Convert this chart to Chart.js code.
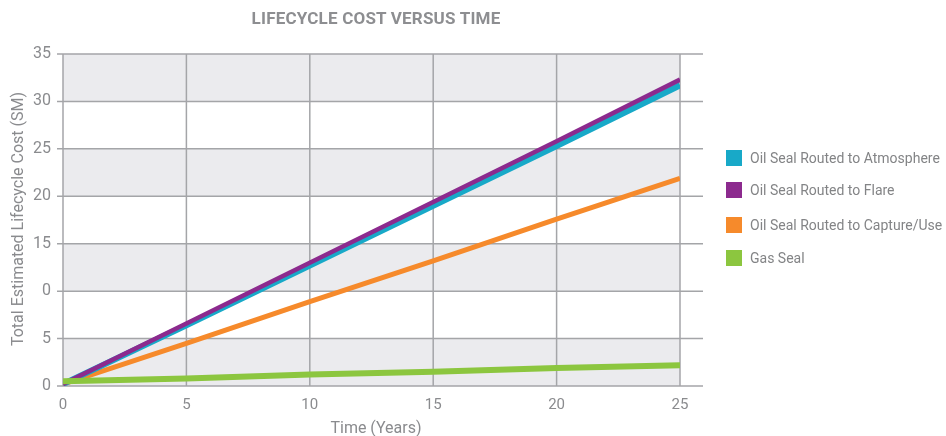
<!DOCTYPE html>
<html><head><meta charset="utf-8">
<script src="https://cdn.jsdelivr.net/npm/chart.js@4"></script>
<style>
body{margin:0;background:#fff;}
#wrap{position:relative;width:946px;height:436px;overflow:hidden;}
canvas{position:absolute;left:0;top:0;}
#title{position:absolute;top:8px;left:215px;width:322px;text-align:center;font:bold 17px Roboto,sans-serif;color:#8d8e91;white-space:nowrap;letter-spacing:0.2px;}
#xtitle{position:absolute;top:418px;left:276px;width:200px;text-align:center;font:16px Roboto,sans-serif;color:#8a8b8e;line-height:20px;}
#ytitle{position:absolute;left:-132px;top:209px;width:300px;text-align:center;font:16px Roboto,sans-serif;color:#8a8b8e;line-height:20px;transform:rotate(-90deg);}
.leg{position:absolute;left:726px;height:16px;font:14px Roboto,sans-serif;color:#838486;white-space:nowrap;line-height:16px;}
.leg span{display:inline-block;width:16px;height:16px;vertical-align:top;margin-right:8px;}
</style></head>
<body><div id="wrap"><canvas id="c" width="946" height="436"></canvas>
<div id="title">LIFECYCLE COST VERSUS TIME</div>
<div id="xtitle">Time (Years)</div>
<div id="ytitle">Total Estimated Lifecycle Cost (SM)</div>
<div id="legend"></div></div>
<script>
const years = [0, 5, 10, 15, 20, 25];
const seriesNames = ['Oil Seal Routed to Atmosphere','Oil Seal Routed to Flare','Oil Seal Routed to Capture/Use','Gas Seal'];
const atmosphere = [0.2, 6.4, 12.7, 19.0, 25.3, 31.7];
const flare = [0.2, 6.6, 13.0, 19.4, 25.8, 32.3];
const capture = [0.2, 4.5, 8.9, 13.2, 17.6, 21.9];
const gasSeal = [0.5, 0.8, 1.2, 1.5, 1.9, 2.2];
const xTicks = [0, 5, 10, 15, 20, 25];
const yTicks = [0, 5, 10, 15, 20, 25, 30, 35];
const yTickLabels = ['0', '5', '0', '15', '20', '25', '30', '35'];
const colors = ['#18a9c8', '#8c2a8e', '#f68a2b', '#8cc63f'];

const legendTops = [150, 182, 217, 250];
const legEl = document.getElementById('legend');
seriesNames.forEach((n,i)=>{
  const d=document.createElement('div'); d.className='leg'; d.style.top=legendTops[i]+'px';
  d.innerHTML='<span style="background:'+colors[i]+'"></span>'+n; legEl.appendChild(d);
});

const toPts = arr => arr.map((v,i)=>({x:years[i], y:v}));
const bg = {id:'bg', beforeDatasetsDraw(c){
  const {ctx, chartArea:a, scales:{x,y}} = c;
  ctx.save();
  for (let i=0;i<yTicks.length-1;i++){
    if (i%2===0){
      const t=y.getPixelForValue(yTicks[i+1]), b=y.getPixelForValue(yTicks[i]);
      ctx.fillStyle='#ebebee'; ctx.fillRect(a.left,t,a.right-a.left,b-t);
    }
  }
  ctx.strokeStyle='#a4a5a8'; ctx.lineWidth=1.5;
  const ln=(x1,y1,x2,y2)=>{ctx.beginPath();ctx.moveTo(x1,y1);ctx.lineTo(x2,y2);ctx.stroke();};
  xTicks.forEach(v=>{const p=x.getPixelForValue(v); ln(p,a.top,p,a.bottom);});
  yTicks.forEach(v=>{const p=y.getPixelForValue(v); ln(a.left-6,p,a.right+23,p);});
  ctx.restore();
}};

new Chart(document.getElementById('c'), {
  type:'line',
  data:{datasets:[
    {label:seriesNames[0], data:toPts(atmosphere), borderColor:colors[0], borderWidth:6, order:2},
    {label:seriesNames[1], data:toPts(flare), borderColor:colors[1], borderWidth:4.5, order:1},
    {label:seriesNames[2], data:toPts(capture), borderColor:colors[2], borderWidth:5, order:3},
    {label:seriesNames[3], data:toPts(gasSeal), borderColor:colors[3], borderWidth:6, order:0}
  ]},
  options:{
    responsive:false, animation:false, devicePixelRatio:1,
    layout:{padding:{left:0, right:266, top:54, bottom:0}},
    elements:{point:{radius:0}, line:{tension:0, borderCapStyle:'butt'}},
    plugins:{legend:{display:false}, tooltip:{enabled:false}},
    scales:{
      x:{type:'linear', min:0, max:25,
        afterBuildTicks:s=>{s.ticks=xTicks.map(v=>({value:v}));},
        grid:{display:false, tickLength:0}, border:{display:false},
        ticks:{padding:10, color:'#8a8b8e', font:{family:'Roboto', size:15}},
        afterFit:s=>{s.height=50;}
      },
      y:{min:0, max:35,
        afterBuildTicks:s=>{s.ticks=yTicks.map(v=>({value:v}));},
        grid:{display:false}, border:{display:false},
        ticks:{padding:4, color:'#8a8b8e', font:{family:'Roboto', size:16},
          callback:(v)=>yTickLabels[yTicks.indexOf(v)]},
        afterFit:s=>{s.width=63;}
      }
    }
  },
  plugins:[bg]
});
</script></body></html>
